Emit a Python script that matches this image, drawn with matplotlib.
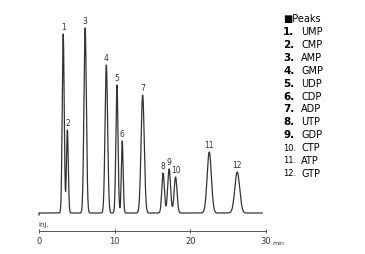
import matplotlib.pyplot as plt
import numpy as np

# peak data
peak_no = ["1", "2", "3", "4", "5", "6", "7", "8", "9", "10", "11", "12"]
names = ["UMP", "CMP", "AMP", "GMP", "UDP", "CDP", "ADP", "UTP", "GDP", "CTP", "ATP", "GTP"]
rt = [3.2, 3.75, 6.1, 8.9, 10.3, 11.0, 13.7, 16.4, 17.2, 18.05, 22.5, 26.2]   # min
height = [179, 83, 185, 148, 128, 72, 118, 40, 44, 36, 61, 41]
sigma = [0.13, 0.12, 0.16, 0.17, 0.14, 0.12, 0.21, 0.17, 0.19, 0.19, 0.28, 0.32]

W, H = 365, 255
fig = plt.figure(figsize=(W / 100, H / 100), dpi=100)
# axes: x 0..30 min -> px 39..266, y units = pixels, baseline at px 214
ax = fig.add_axes([39 / W, 23 / H, 227 / W, 218 / H])
ax.set_xlim(0, 30)
ax.set_ylim(-18, 200)

t = np.linspace(0, 29.5, 3000)
sig = np.zeros_like(t)
for r, h, s in zip(rt, height, sigma):
    sig += h * np.exp(-0.5 * ((t - r) / s) ** 2)
ax.plot(np.r_[0, t], np.r_[-2, sig], color="#333333", lw=0.9, clip_on=False)

for lab, r, h in zip(peak_no, rt, height):
    ax.text(r, h + 3, lab, ha="center", va="bottom", fontsize=5.5, color="#333333")

for s in ["top", "right", "left"]:
    ax.spines[s].set_visible(False)
ax.spines["bottom"].set_color("#555555")
ax.spines["bottom"].set_linewidth(0.7)
ax.set_yticks([])
ax.set_xticks([0, 10, 20, 30])
ax.set_xticklabels(["0", "10", "20", "30"])
ax.tick_params(axis="x", direction="inout", length=3, width=0.7, colors="#555555",
               labelsize=6, pad=2, labelcolor="#333333")
ax.text(30.85, -29.5, "min", fontsize=4.5, ha="left", va="center", color="#333333")
ax.text(-0.1, -11, "Inj.", fontsize=5, ha="left", va="center", color="#333333")

# peak list on the right
fig.text(283 / W, 1 - 19 / H, "\u25a0Peaks", fontsize=7, va="center", ha="left")
for i, (n, nm) in enumerate(zip(peak_no, names)):
    y = 1 - (32 + i * 12.9) / H
    if len(n) == 1:
        fig.text(283 / W, y, n + ".", fontsize=7.5, fontweight="bold", va="center", ha="left")
    else:
        fig.text(283 / W, y, n + ".", fontsize=6, va="center", ha="left")
    fig.text(301 / W, y, nm, fontsize=7, va="center", ha="left")

fig.savefig("out.png", dpi=100)
